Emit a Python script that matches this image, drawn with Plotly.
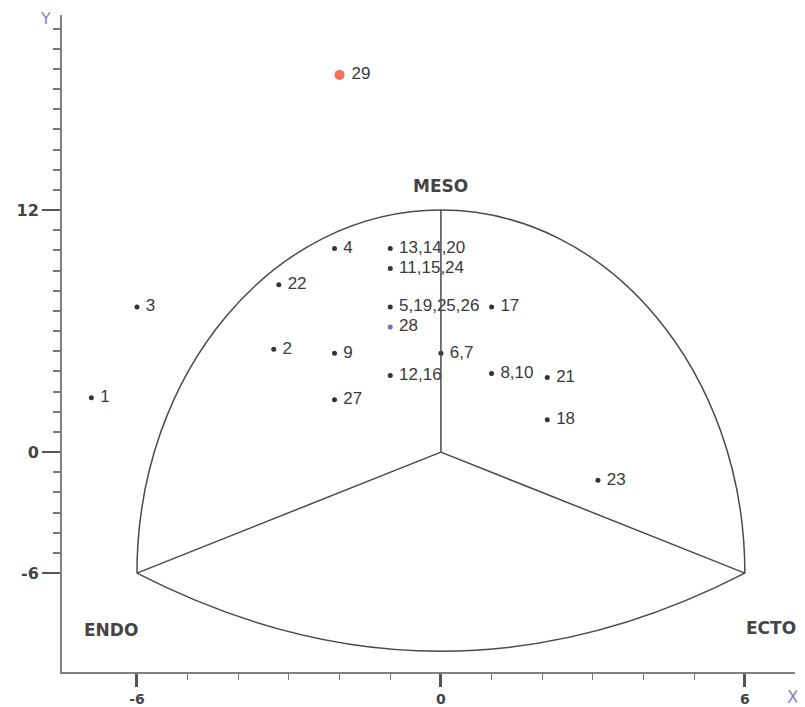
import plotly.graph_objects as go

# ---- data (somatochart X/Y coordinates) ----
point_labels = ["1", "2", "3", "4", "5,19,25,26", "6,7", "8,10", "9", "11,15,24",
                "12,16", "13,14,20", "17", "18", "21", "22", "23", "27", "28", "29"]
point_x = [-6.9, -3.3, -6.0, -2.1, -1.0, 0.0, 1.0, -2.1, -1.0,
           -1.0, -1.0, 1.0, 2.1, 2.1, -3.2, 3.1, -2.1, -1.0, -2.0]
point_y = [2.7, 5.1, 7.2, 10.1, 7.2, 4.9, 3.9, 4.9, 9.1,
           3.8, 10.1, 7.2, 1.6, 3.7, 8.3, -1.4, 2.6, 6.2, 18.7]

vertex_names = ["ENDO", "MESO", "ECTO"]
vertex_x = [-6, 0, 6]
vertex_y = [-6, 12, -6]
center_x, center_y = 0, 0

y_major_ticks = [-6, 0, 6, 12]
y_major_text = ["-6", "0", "", "12"]
x_major_ticks = [-6, 0, 6]
x_major_text = ["-6", "0", "6"]

# ---- styling ----
LINE = "#4a4a4a"
AXIS = "#808080"
TXT = "#3a3a3a"
PURPLE = "#8a80c8"
LABEL_FONT = dict(family="Liberation Sans", size=17, color=TXT)

fig = go.Figure()

def add_points(idx, color, size):
    fig.add_trace(go.Scatter(
        x=[point_x[i] for i in idx], y=[point_y[i] for i in idx],
        text=[point_labels[i] for i in idx], texttemplate=" %{text}",
        mode="markers+text", textposition="middle right",
        marker=dict(size=size, color=color),
        textfont=LABEL_FONT, hoverinfo="skip", showlegend=False))

reg = [i for i, l in enumerate(point_labels) if l not in ("28", "29")]
add_points(reg, "#333333", 5)
add_points([point_labels.index("28")], "#7070c8", 5)
add_points([point_labels.index("29")], "#f4705e", 10)

# ---- somatochart frame ----
(ex, mx, cx_), (ey, my, cy_) = vertex_x, vertex_y
k = 0.5523  # cubic bezier quarter-ellipse constant
shapes = []
shapes.append(dict(type="path", xref="x", yref="y",
    path=f"M {ex},{ey} C {ex},{ey + (my - ey) * k} {mx + (ex - mx) * k},{my} {mx},{my}",
    line=dict(color=LINE, width=1.5)))
shapes.append(dict(type="path", xref="x", yref="y",
    path=f"M {mx},{my} C {mx + (cx_ - mx) * k},{my} {cx_},{cy_ + (my - cy_) * k} {cx_},{cy_}",
    line=dict(color=LINE, width=1.5)))
sag = 0.215 * (my - ey)
shapes.append(dict(type="path", xref="x", yref="y",
    path=f"M {ex},{ey} Q {(ex + cx_) / 2},{ey - 2 * sag} {cx_},{cy_}",
    line=dict(color=LINE, width=1.5)))
for vx, vy in zip(vertex_x, vertex_y):
    shapes.append(dict(type="line", xref="x", yref="y",
                       x0=center_x, y0=center_y, x1=vx, y1=vy,
                       line=dict(color=LINE, width=1.5)))

annotations = []
offsets = {"ENDO": (-26, -57), "MESO": (0, 24), "ECTO": (26, -55)}
for name, vx, vy in zip(vertex_names, vertex_x, vertex_y):
    dx, dy = offsets[name]
    annotations.append(dict(x=vx, y=vy, xref="x", yref="y", text=name,
                            showarrow=False, xshift=dx, yshift=dy,
                            font=dict(family="DejaVu Sans", size=17, color="#444444",
                                      weight="bold")))
annotations.append(dict(x=-0.023, y=0.995, xref="paper", yref="paper", text="Y",
                        xanchor="center", yanchor="middle", showarrow=False,
                        font=dict(family="DejaVu Sans", size=16, color=PURPLE)))
annotations.append(dict(x=0.997, y=-0.038, xref="paper", yref="paper", text="X",
                        xanchor="center", yanchor="middle", showarrow=False,
                        font=dict(family="DejaVu Sans", size=17, color=PURPLE)))

xr = [-7.48, 6.99]
yr = [-10.9, 21.67]
ytickfont = dict(family="DejaVu Sans", size=16, color="#444444", weight="bold")
xtickfont = dict(family="DejaVu Sans", size=14, color="#444444", weight="bold")

# the page body adds an 8 px offset, so the figure is 8 px smaller and margins shifted
fig.update_layout(
    width=797, height=699,
    margin=dict(l=54, r=10, t=7, b=35, autoexpand=False),
    paper_bgcolor="white", plot_bgcolor="white",
    shapes=shapes, annotations=annotations,
    xaxis=dict(range=xr, showgrid=False, zeroline=False, showline=True, automargin=False,
               linecolor=AXIS, linewidth=1.5, ticks="outside",
               tickmode="array", tickvals=x_major_ticks, ticktext=x_major_text,
               ticklen=13, tickwidth=3, tickcolor="#555555", tickfont=xtickfont,
               ticklabelstandoff=0,
               minor=dict(tickmode="array", tickvals=list(range(-5, 6)),
                          ticks="outside", ticklen=6, tickwidth=1, tickcolor="#777777")),
    yaxis=dict(range=yr, showgrid=False, zeroline=False, showline=True, automargin=False,
               linecolor=AXIS, linewidth=2, ticks="outside",
               tickmode="array", tickvals=y_major_ticks, ticktext=y_major_text,
               ticklen=18, tickwidth=2, tickcolor="#555555", tickfont=ytickfont,
               minor=dict(tickmode="array", tickvals=list(range(-6, 22)),
                          ticks="outside", ticklen=7, tickwidth=1.5, tickcolor="#777777")),
    xaxis2=dict(range=xr, overlaying="x", anchor="y", side="bottom", automargin=False,
                showgrid=False, zeroline=False, showline=False, ticks="outside",
                tickmode="array", tickvals=[-3, 3], ticklen=17, tickwidth=3,
                tickcolor="#555555", showticklabels=False),
    yaxis2=dict(range=yr, overlaying="y", anchor="x", side="left", automargin=False,
                showgrid=False, zeroline=False, showline=False, ticks="outside",
                tickmode="array", tickvals=[-3, 3, 9, 15, 18, 21], ticklen=11,
                tickwidth=1.5, tickcolor="#666666", showticklabels=False),
)

fig.write_html("out.html")
